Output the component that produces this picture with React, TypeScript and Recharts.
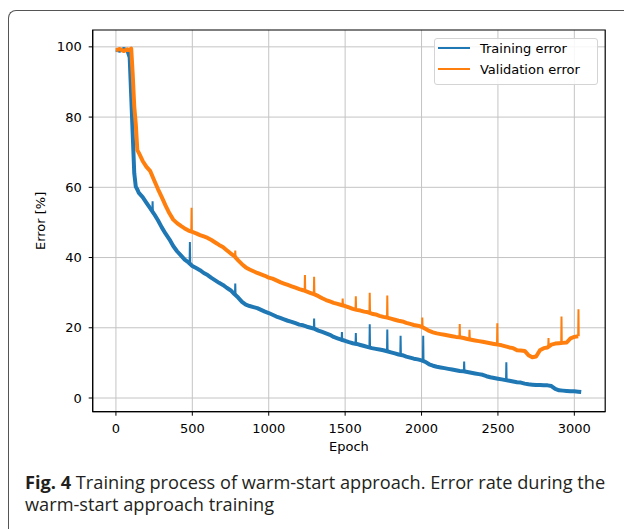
import { LineChart, Line, XAxis, YAxis, CartesianGrid, ReferenceArea, Label } from "recharts"

const epochs = [
  0, 25, 50, 75, 90, 100, 110, 120, 130, 140, 150,
  175, 200, 225, 250, 275, 300, 325, 350, 375, 400, 425, 450, 475,
  500, 525, 550, 575, 600, 625, 650, 675, 700, 725, 750, 775,
  800, 825, 850, 875, 900, 925, 950, 975, 1000, 1025, 1050, 1075,
  1100, 1125, 1150, 1175, 1200, 1225, 1250, 1275, 1300, 1325, 1350, 1375,
  1400, 1425, 1450, 1475, 1500, 1525, 1550, 1575, 1600, 1625, 1650, 1675,
  1700, 1725, 1750, 1775, 1800, 1825, 1850, 1875, 1900, 1925, 1950, 1975,
  2000, 2025, 2050, 2075, 2100, 2125, 2150, 2175, 2200, 2225, 2250, 2275,
  2300, 2325, 2350, 2375, 2400, 2425, 2450, 2475, 2500, 2525, 2550, 2575,
  2600, 2625, 2650, 2675, 2700, 2725, 2750, 2775, 2800, 2825, 2850, 2875,
  2900, 2925, 2950, 2975, 3000, 3025, 3045
]

// training error [%]
const trainingError = [
  99.2, 98.9, 99.4, 99.0, 97.0, 86.0, 75.0, 64.0, 60.2, 59.4, 58.4,
  57.2, 55.6, 54.0, 52.4, 50.6, 48.6, 46.8, 45.2, 43.3, 41.8, 40.6, 39.4, 38.6,
  37.6, 37.0, 36.4, 35.6, 35.0, 34.2, 33.5, 32.8, 32.2, 31.4, 30.7, 29.6,
  28.6, 27.4, 26.6, 26.2, 25.9, 25.6, 25.1, 24.6, 24.2, 23.7, 23.2, 22.8,
  22.4, 22.0, 21.7, 21.3, 20.9, 20.7, 20.3, 20.0, 19.7, 19.2, 18.8, 18.4,
  18.0, 17.4, 17.0, 16.6, 16.3, 15.9, 15.6, 15.4, 15.1, 14.8, 14.5, 14.2,
  14.0, 13.8, 13.6, 13.3, 13.0, 12.7, 12.4, 12.2, 11.8, 11.5, 11.2, 11.0,
  10.7, 10.3, 9.6, 9.2, 8.9, 8.7, 8.5, 8.3, 8.1, 7.9, 7.7, 7.6,
  7.4, 7.2, 7.0, 6.8, 6.6, 6.2, 5.9, 5.7, 5.5, 5.3, 5.1, 4.9,
  4.7, 4.5, 4.4, 4.1, 3.9, 3.8, 3.7, 3.7, 3.6, 3.6, 3.4, 2.6,
  2.2, 2.1, 2.0, 1.9, 1.9, 1.8, 1.7
]

// validation error [%], the curve stops before the last epoch
const validationError = [
  99.0, 99.4, 98.8, 99.3, 99.1, 99.5, 92.0, 83.0, 78.0, 70.6, 69.8,
  67.5, 65.8, 64.6, 62.0, 59.5, 57.2, 54.8, 52.6, 50.8, 49.8, 49.0, 48.3, 47.7,
  47.3, 46.9, 46.4, 46.0, 45.6, 45.0, 44.3, 43.6, 43.0, 42.1, 41.2, 40.4,
  39.2, 38.1, 37.2, 36.6, 36.1, 35.6, 35.2, 34.8, 34.3, 34.0, 33.5, 33.0,
  32.6, 32.2, 31.8, 31.4, 31.0, 30.7, 30.3, 29.9, 29.5, 29.0, 28.4, 27.9,
  27.5, 27.1, 26.8, 26.5, 26.2, 25.8, 25.4, 25.1, 24.9, 24.6, 24.4, 24.0,
  23.8, 23.4, 23.1, 22.9, 22.6, 22.3, 22.0, 21.8, 21.4, 21.1, 20.8, 20.6,
  20.3, 19.7, 19.1, 18.7, 18.4, 18.2, 18.0, 17.8, 17.6, 17.4, 17.3, 17.1,
  16.8, 16.6, 16.4, 16.2, 16.0, 15.8, 15.6, 15.4, 15.2, 15.0, 14.7, 14.4,
  14.2, 13.6, 13.5, 13.4, 12.2, 11.6, 11.8, 13.6, 14.2, 14.4, 15.2, 15.5,
  15.6, 15.7, 15.8, 17.0, 17.4, 17.6, null
]

// single-epoch spikes: [epoch, level around it, peak]
const trainingSpikes = [
  [240, 52.8, 56.0], [484, 38.4, 44.4], [781, 29.4, 32.6], [1297, 19.7, 22.6],
  [1479, 16.6, 18.8], [1570, 15.4, 18.5], [1661, 14.4, 21.0], [1776, 13.3, 19.5],
  [1863, 12.3, 17.7], [2011, 10.5, 17.7], [2279, 7.6, 10.4], [2555, 5.1, 10.2]
]
const validationSpikes = [
  [495, 47.4, 54.2], [781, 40.2, 42.0], [1237, 30.5, 35.0], [1297, 29.6, 34.5],
  [1484, 26.4, 28.3], [1570, 25.2, 29.0], [1661, 24.3, 30.0], [1776, 22.9, 29.2],
  [2005, 20.2, 22.9], [2250, 17.3, 21.1], [2314, 16.7, 19.4], [2496, 15.2, 21.3],
  [2831, 14.4, 17.1], [2916, 15.7, 23.2], [3027, 17.6, 25.3]
]

const seriesNames = ["Training error", "Validation error"]
const seriesColors = ["#1f77b4", "#ff7f0e"]

const xTicks = [0, 500, 1000, 1500, 2000, 2500, 3000]
const yTicks = [0, 20, 40, 60, 80, 100]
const xDomain = [-152, 3202]
const yDomain = [-3.9, 104.8]

const trainingData = epochs.map((e, i) => ({ epoch: e, value: trainingError[i] }))
const validationData = epochs.map((e, i) => ({ epoch: e, value: validationError[i] }))

// each spike is its own thin 3-point segment drawn on top of the band
const spikeData = (s: number[]) => [
  { epoch: s[0] - 2, value: s[1] },
  { epoch: s[0], value: s[2] },
  { epoch: s[0] + 2, value: s[1] }
]

const FONT = "'DejaVu Sans', sans-serif"
const tickStyle = { fill: "#000", fontSize: 13, fontFamily: FONT }

export default function App() {
  return (
    <div
      style={{
        position: "absolute",
        left: 0,
        top: 0,
        width: 624,
        height: 529,
        overflow: "hidden",
        background: "#fff"
      }}
    >
      {/* figure card frame */}
      <div
        style={{
          position: "absolute",
          left: 7.5,
          top: 9.5,
          width: 660,
          height: 600,
          borderLeft: "1.5px solid #555",
          borderTop: "1.5px solid #555",
          borderTopLeftRadius: 8
        }}
      />

      <div style={{ position: "absolute", left: 0, top: 0 }}>
        <LineChart
          width={624}
          height={460}
          margin={{ top: 30, right: 18.8, left: 32.7, bottom: 8.3 }}
        >
          <CartesianGrid stroke="#c4c4c4" strokeWidth={1} horizontalValues={yTicks} verticalValues={xTicks} />
          <XAxis
            type="number"
            dataKey="epoch"
            domain={xDomain}
            ticks={xTicks}
            allowDataOverflow
            height={40}
            tick={tickStyle}
            tickSize={4}
            tickMargin={8}
            stroke="#000"
          >
            <Label
              content={({ viewBox }: any) => (
                <text
                  x={viewBox.x + viewBox.width / 2}
                  y={451}
                  textAnchor="middle"
                  fontSize={13}
                  fontFamily={FONT}
                  fill="#000"
                >
                  Epoch
                </text>
              )}
            />
          </XAxis>
          <YAxis
            type="number"
            domain={yDomain}
            ticks={yTicks}
            allowDataOverflow
            width={60}
            tick={tickStyle}
            tickSize={4}
            tickMargin={7}
            stroke="#000"
          >
            <Label
              content={({ viewBox }: any) => {
                const cx = viewBox.x + 12.5
                const cy = viewBox.y + viewBox.height / 2
                return (
                  <text
                    x={cx}
                    y={cy}
                    transform={`rotate(-90, ${cx}, ${cy})`}
                    textAnchor="middle"
                    fontSize={13}
                    fontFamily={FONT}
                    fill="#000"
                  >
                    Error [%]
                  </text>
                )
              }}
            />
          </YAxis>
          <Line
            data={trainingData}
            dataKey="value"
            name={seriesNames[0]}
            stroke={seriesColors[0]}
            strokeWidth={4}
            strokeLinejoin="round"
            dot={false}
            isAnimationActive={false}
          />
          {trainingSpikes.map((s) => (
            <Line
              key={`t-${s[0]}`}
              data={spikeData(s)}
              dataKey="value"
              stroke={seriesColors[0]}
              strokeWidth={2}
              dot={false}
              legendType="none"
              isAnimationActive={false}
            />
          ))}
          <Line
            data={validationData}
            dataKey="value"
            name={seriesNames[1]}
            stroke={seriesColors[1]}
            strokeWidth={4}
            strokeLinejoin="round"
            dot={false}
            isAnimationActive={false}
          />
          {validationSpikes.map((s) => (
            <Line
              key={`v-${s[0]}`}
              data={spikeData(s)}
              dataKey="value"
              stroke={seriesColors[1]}
              strokeWidth={2}
              dot={false}
              legendType="none"
              isAnimationActive={false}
            />
          ))}
          {/* axes frame */}
          <ReferenceArea
            x1={xDomain[0]}
            x2={xDomain[1]}
            y1={yDomain[0]}
            y2={yDomain[1]}
            fill="none"
            stroke="#000"
            strokeWidth={1.2}
            ifOverflow="visible"
          />
        </LineChart>
      </div>

      {/* legend */}
      <div
        style={{
          position: "absolute",
          left: 434,
          top: 37.7,
          width: 164,
          height: 47,
          boxSizing: "border-box",
          border: "1px solid #d4d4d4",
          borderRadius: 3,
          background: "rgba(255,255,255,0.85)",
          fontFamily: FONT,
          fontSize: 13,
          color: "#000"
        }}
      >
        {seriesNames.map((name, i) => (
          <div
            key={name}
            style={{
              position: "absolute",
              left: 0,
              top: -1 + 21 * i,
              height: 21,
              width: 162,
              display: "flex",
              alignItems: "center"
            }}
          >
            <div
              style={{
                marginLeft: 3.3,
                width: 32,
                height: 2,
                background: seriesColors[i]
              }}
            />
            <span style={{ marginLeft: 9.7, whiteSpace: "nowrap" }}>{name}</span>
          </div>
        ))}
      </div>

      {/* caption */}
      <div
        style={{
          position: "absolute",
          left: 25,
          top: 470.5,
          width: 600,
          fontFamily: "'Open Sans', sans-serif",
          fontSize: 18.2,
          lineHeight: "22.5px",
          color: "#231f20",
          whiteSpace: "nowrap"
        }}
      >
        <b>Fig. 4</b> Training process of warm-start approach. Error rate during the
        <br />
        warm-start approach training
      </div>
    </div>
  )
}
